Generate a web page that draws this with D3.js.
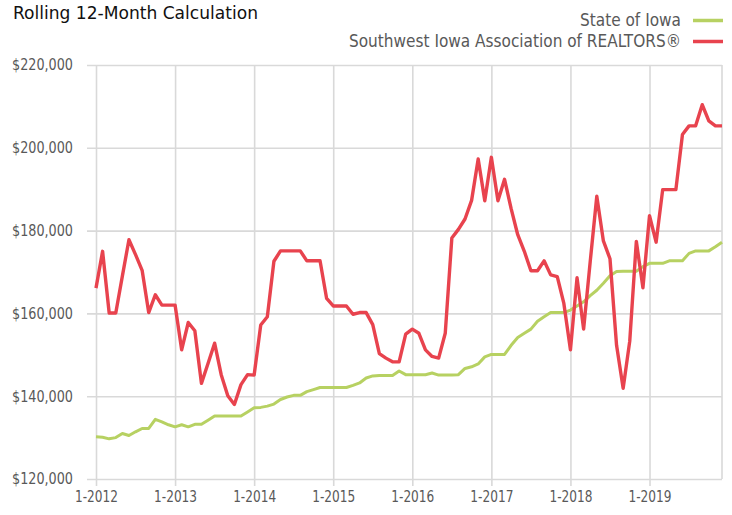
<!DOCTYPE html>
<html><head><meta charset="utf-8">
<script src="https://cdn.jsdelivr.net/npm/d3@7"></script>
<style>
body{margin:0;background:#fff;}
svg text{font-family:"Liberation Sans Narrow","Arial Narrow","DejaVu Sans Condensed",sans-serif;}
</style></head>
<body><svg id="c" width="732" height="515"></svg>
<script>
const yearLabels = ["1-2012","1-2013","1-2014","1-2015","1-2016","1-2017","1-2018","1-2019"];
const seriesNames = ["State of Iowa","Southwest Iowa Association of REALTORS®"];
const seriesColors = ["#b7d162","#e8434e"];
// monthly values, 1-2012 .. 12-2019 (in $ thousands)
const iowa = [130.2,130.1,129.7,130.0,131.0,130.5,131.4,132.2,132.2,134.4,133.8,133.1,
  132.6,133.1,132.6,133.2,133.2,134.2,135.2,135.2,135.2,135.2,135.2,136.2,
  137.2,137.3,137.6,138.1,139.2,139.8,140.2,140.2,141.1,141.6,142.1,142.1,
  142.1,142.1,142.1,142.6,143.2,144.4,144.9,145.0,145.0,145.0,146.1,145.2,
  145.2,145.2,145.2,145.6,145.1,145.1,145.1,145.2,146.7,147.1,147.8,149.5,
  150.1,150.1,150.1,152.3,154.2,155.2,156.2,158.1,159.2,160.2,160.2,160.2,
  160.8,161.8,162.8,164.3,165.6,167.3,169.1,170.1,170.2,170.2,170.2,171.3,
  172.1,172.1,172.1,172.7,172.7,172.7,174.5,175.1,175.1,175.1,176.1,177.2];
const swIowa = [166.1,175.0,160.1,160.1,169.0,177.8,174.2,170.4,160.2,164.5,162.0,162.0,
  162.0,151.2,157.8,155.8,143.1,147.9,152.8,145.2,140.1,138.0,142.8,145.2,
  145.1,157.2,159.2,172.6,175.1,175.1,175.1,175.1,172.7,172.7,172.7,163.6,
  161.8,161.8,161.8,159.8,160.2,160.2,157.3,150.3,149.2,148.3,148.3,155.0,
  156.2,155.2,151.2,149.6,149.2,155.2,178.2,180.3,182.8,187.3,197.3,187.2,
  197.7,187.2,192.4,185.3,179.0,175.0,170.3,170.3,172.7,169.3,168.9,162.4,
  151.2,168.6,156.2,172.5,188.3,177.5,173.2,152.3,141.9,153.3,177.4,166.2,
  183.6,177.2,189.9,189.9,189.9,203.2,205.3,205.3,210.4,206.5,205.3,205.3];
const yTicks = [120000,140000,160000,180000,200000,220000];

const svg = d3.select("#c");
const L = 96, R = 722, T = 65, B = 479;
const x = d3.scaleLinear().domain([0, iowa.length - 1]).range([L, R]);
const y = d3.scaleLinear().domain([120000, 220000]).range([B, T]);
const fmt = d3.format("$,");

// y grid + labels
const gy = svg.append("g").attr("transform", `translate(${L - 9},0)`)
  .call(d3.axisLeft(y).tickValues(yTicks).tickFormat(fmt).tickSize(-(R - L + 9)).tickPadding(14));
gy.select(".domain").remove();
gy.selectAll("line").attr("stroke", "#d9d9d9").attr("stroke-width", 1.6);
gy.selectAll("text").attr("fill", "#595959").attr("font-size", 15)
  .attr("textLength", 61).attr("lengthAdjust", "spacingAndGlyphs");

// x grid + labels
const xTickIdx = yearLabels.map((d, i) => i * 12);
const gx = svg.append("g").attr("transform", `translate(0,${B + 7})`)
  .call(d3.axisBottom(x).tickValues(xTickIdx).tickFormat((d, i) => yearLabels[i]).tickSize(-(B + 7 - T)).tickPadding(5));
gx.select(".domain").remove();
gx.selectAll("line").attr("stroke", "#d9d9d9").attr("stroke-width", 1.6);
gx.selectAll("text").attr("fill", "#595959").attr("font-size", 15)
  .attr("textLength", 43).attr("lengthAdjust", "spacingAndGlyphs");

// right edge
svg.append("line").attr("x1", x(iowa.length - 1)).attr("x2", x(iowa.length - 1))
  .attr("y1", y(220000)).attr("y2", y(120000)).attr("stroke", "#d9d9d9").attr("stroke-width", 1.6);

const line = d3.line().x((d, i) => x(i)).y(d => y(d * 1000));
svg.append("path").datum(iowa).attr("d", line).attr("fill", "none")
  .attr("stroke", seriesColors[0]).attr("stroke-width", 3).attr("stroke-linejoin", "round");
svg.append("path").datum(swIowa).attr("d", line).attr("fill", "none")
  .attr("stroke", seriesColors[1]).attr("stroke-width", 3.4).attr("stroke-linejoin", "round");

// title
svg.append("text").attr("x", 13).attr("y", 19).attr("font-size", 18.5).attr("fill", "#111")
  .attr("textLength", 245).attr("lengthAdjust", "spacingAndGlyphs")
  .text("Rolling 12-Month Calculation");

// legend
const legendWidths = [101, 332];
seriesNames.forEach((n, i) => {
  const yy = 26 + i * 21;
  svg.append("text").attr("x", 681).attr("y", yy).attr("text-anchor", "end")
    .attr("font-size", 18.5).attr("fill", "#595959")
    .attr("textLength", legendWidths[i]).attr("lengthAdjust", "spacingAndGlyphs").text(n);
  svg.append("line").attr("x1", 693).attr("x2", 723).attr("y1", yy - 5.5).attr("y2", yy - 5.5)
    .attr("stroke", seriesColors[i]).attr("stroke-width", 3.5);
});
</script></body></html>
